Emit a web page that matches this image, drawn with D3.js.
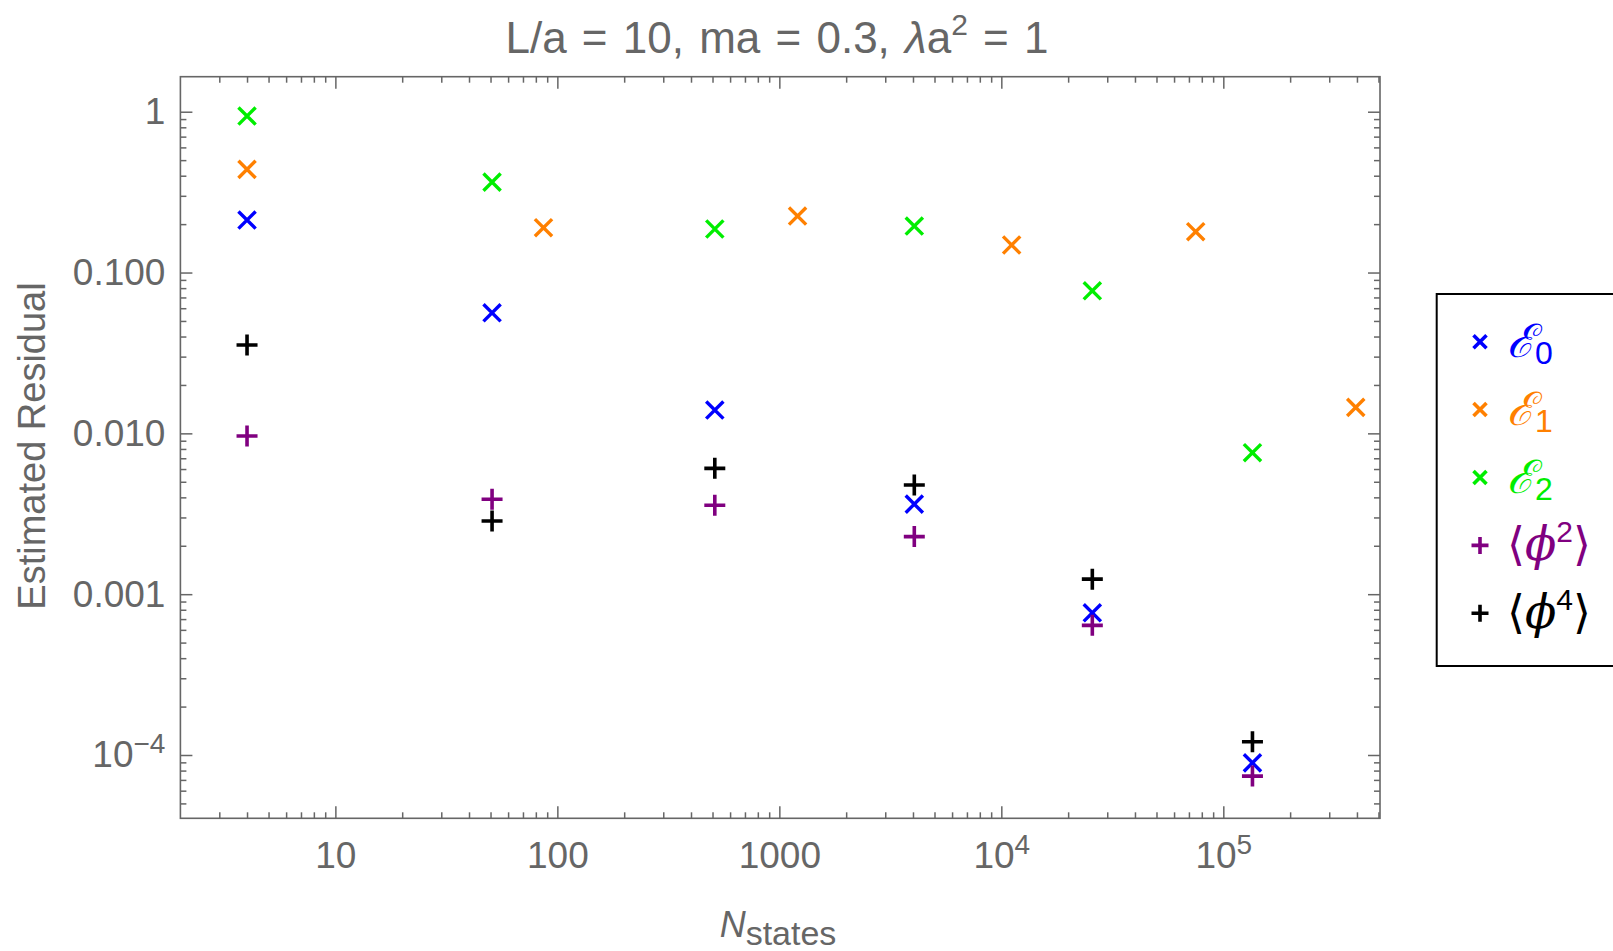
<!DOCTYPE html>
<html>
<head>
<meta charset="utf-8">
<script src="https://cdnjs.cloudflare.com/ajax/libs/d3/7.8.5/d3.min.js"></script>
<style>
  body { margin: 0; background: #fff; }
  svg { color: #666; }
  text { font-family: "Liberation Sans", Arial, sans-serif; }
  .axis text { font-size: 37px; fill: #666; }
  .axis line { stroke-width: 1.5px; }
</style>
</head>
<body>
<script>
// N_states where E0, E2, <phi^2>, <phi^4> were measured
var nStates = [4, 50.8, 512, 4055, 25700, 135300];
// E1 was measured at other sizes
var nStatesE1 = [4, 86.6, 1208, 11130, 75100, 395000];

var residE0 = [0.212, 0.0562, 0.01396, 0.00363, 0.000766, 0.0000894];
var residE1 = [0.438, 0.190, 0.2246, 0.1483, 0.1794, 0.01451];
var residE2 = [0.940, 0.365, 0.1865, 0.1946, 0.0770, 0.00758];
var residPhi2 = [0.00962, 0.00389, 0.00357, 0.00228, 0.000640, 0.0000739];
var residPhi4 = [0.0354, 0.00285, 0.00606, 0.00477, 0.00124, 0.000121];

var xMajor = [10, 100, 1000, 1e4, 1e5];
var xTickLabels = ["10", "100", "1000", "10^4", "10^5"];
var yMajor = [1, 0.1, 0.01, 0.001, 1e-4];
var yTickLabels = ["1", "0.100", "0.010", "0.001", "10^\u22124"];

var series = [
    { sub: "0", kind: "E", xs: nStates, ys: residE0, color: "#0000ff", shape: "x" },
    { sub: "1", kind: "E", xs: nStatesE1, ys: residE1, color: "#ff8000", shape: "x" },
    { sub: "2", kind: "E", xs: nStates, ys: residE2, color: "#00ee00", shape: "x" },
    { sub: "2", kind: "phi", xs: nStates, ys: residPhi2, color: "#800080", shape: "+" },
    { sub: "4", kind: "phi", xs: nStates, ys: residPhi4, color: "#000000", shape: "+" }
];

var width = 1613, height = 951;
var plot = { left: 180.4, right: 1380, top: 76.7, bottom: 818.3 };

var svg = d3.select("body").append("svg")
    .attr("width", width)
    .attr("height", height);

var x = d3.scaleLog().domain([2.004, 5.08e5]).range([plot.left, plot.right]);
var y = d3.scaleLog().domain([1.651, 4.04e-5]).range([plot.top, plot.bottom]);

// minor ticks 2..9 of each decade inside the domain
function minorTicks(scale) {
    var dom = scale.domain(), lo = Math.min(dom[0], dom[1]), hi = Math.max(dom[0], dom[1]);
    var out = [];
    for (var e = Math.floor(Math.log10(lo)); e <= Math.ceil(Math.log10(hi)); e++) {
        for (var k = 2; k <= 9; k++) {
            var v = k * Math.pow(10, e);
            if (v > lo && v < hi) out.push(v);
        }
    }
    return out;
}

function superscripts(g) {
    g.selectAll(".tick text").each(function () {
        var t = d3.select(this);
        var parts = t.text().split("^");
        if (parts.length > 1) {
            t.text(parts[0]);
            t.append("tspan").attr("dy", -14).style("font-size", "28px").text(parts[1]);
        }
    });
}

function axisGroup(axis, tx, ty) {
    var g = svg.append("g")
        .attr("class", "axis")
        .attr("transform", "translate(" + tx + "," + ty + ")")
        .attr("font-size", null)
        .attr("font-family", null)
        .call(axis);
    g.select(".domain").remove();
    return g;
}

// bottom
axisGroup(d3.axisBottom(x).tickValues(xMajor).tickSizeInner(-12).tickSizeOuter(0).tickPadding(23)
    .tickFormat(function (d, i) { return xTickLabels[i]; }), 0, plot.bottom).call(superscripts);
axisGroup(d3.axisBottom(x).tickValues(minorTicks(x)).tickSizeInner(-6).tickSizeOuter(0).tickFormat(""), 0, plot.bottom);
// top
axisGroup(d3.axisTop(x).tickValues(xMajor).tickSizeInner(-12).tickSizeOuter(0).tickFormat(""), 0, plot.top);
axisGroup(d3.axisTop(x).tickValues(minorTicks(x)).tickSizeInner(-6).tickSizeOuter(0).tickFormat(""), 0, plot.top);
// left
axisGroup(d3.axisLeft(y).tickValues(yMajor).tickSizeInner(-12).tickSizeOuter(0).tickPadding(15)
    .tickFormat(function (d, i) { return yTickLabels[i]; }), plot.left, 0).call(superscripts);
axisGroup(d3.axisLeft(y).tickValues(minorTicks(y)).tickSizeInner(-6).tickSizeOuter(0).tickFormat(""), plot.left, 0);
// right
axisGroup(d3.axisRight(y).tickValues(yMajor).tickSizeInner(-12).tickSizeOuter(0).tickFormat(""), plot.right, 0);
axisGroup(d3.axisRight(y).tickValues(minorTicks(y)).tickSizeInner(-6).tickSizeOuter(0).tickFormat(""), plot.right, 0);

svg.append("rect")
    .attr("x", plot.left)
    .attr("y", plot.top)
    .attr("width", plot.right - plot.left)
    .attr("height", plot.bottom - plot.top)
    .attr("fill", "none")
    .attr("stroke", "#666")
    .attr("stroke-width", 1.6);

function markerPath(shape, s) {
    if (shape === "x") return "M" + -s + "," + -s + "L" + s + "," + s + "M" + -s + "," + s + "L" + s + "," + -s;
    return "M" + -s + ",0L" + s + ",0M0," + -s + "L0," + s;
}

// points
series.forEach(function (s) {
    var pts = s.xs.map(function (n, i) { return [n, s.ys[i]]; });
    svg.append("g").selectAll("path")
        .data(pts)
        .enter().append("path")
        .attr("transform", function (d) { return "translate(" + x(d[0]) + "," + y(d[1]) + ")"; })
        .attr("d", markerPath(s.shape, s.shape === "x" ? 8.6 : 10.5))
        .attr("stroke", s.color)
        .attr("stroke-width", s.shape === "x" ? 3.4 : 3.6)
        .attr("fill", "none");
});

// title
var title = svg.append("text")
    .attr("x", 777)
    .attr("y", 53)
    .attr("text-anchor", "middle")
    .attr("fill", "#666")
    .style("font-size", "44px")
    .style("word-spacing", "3px");
title.append("tspan").text("L/a = 10, ma = 0.3, ");
title.append("tspan").style("font-style", "italic").text("\u03bb");
title.append("tspan").text("a");
title.append("tspan").attr("dy", -18).style("font-size", "30px").text("2");
title.append("tspan").attr("dy", 18).text(" = 1");

// axis titles
svg.append("text")
    .attr("transform", "rotate(-90)")
    .attr("x", -446)
    .attr("y", 45)
    .attr("text-anchor", "middle")
    .attr("fill", "#666")
    .style("font-size", "38px")
    .text("Estimated Residual");

var xl = svg.append("text")
    .attr("x", 778)
    .attr("y", 936.7)
    .attr("text-anchor", "middle")
    .attr("fill", "#666")
    .style("font-size", "36px");
xl.append("tspan").style("font-style", "italic").text("N");
xl.append("tspan").attr("dy", 8).style("font-size", "34px").text("states");

// legend
var legend = svg.append("g");
legend.append("rect")
    .attr("x", 1436.7)
    .attr("y", 294)
    .attr("width", 220)
    .attr("height", 372)
    .attr("fill", "#fff")
    .attr("stroke", "#000")
    .attr("stroke-width", 2);

var rowY = d3.scaleLinear().domain([0, 4]).range([341.7, 613.3]);

series.forEach(function (s, i) {
    var cy = rowY(i);
    legend.append("path")
        .attr("transform", "translate(1480," + cy + ")")
        .attr("d", markerPath(s.shape, s.shape === "x" ? 6.5 : 8.5))
        .attr("stroke", s.color)
        .attr("stroke-width", 3.6)
        .attr("fill", "none");

    var t = legend.append("text")
        .attr("x", 1507)
        .attr("y", cy + 15)
        .attr("fill", s.color)
        .style("font-size", "46px");
    if (s.kind === "E") {
        t.append("tspan").style("font-family", "'DejaVu Serif', serif").style("font-style", "italic").text("\u2130");
        t.append("tspan").attr("dy", 7).style("font-size", "32px").text(s.sub);
    } else {
        t.append("tspan").style("font-family", "'DejaVu Sans', sans-serif").style("font-weight", "200").text("\u27e8");
        t.append("tspan").style("font-family", "'DejaVu Serif', serif").style("font-style", "italic").text("\u03d5");
        t.append("tspan").attr("dy", -18).style("font-size", "30px").text(s.sub);
        t.append("tspan").attr("dy", 18).style("font-family", "'DejaVu Sans', sans-serif").text("\u27e9");
    }
});
</script>
</body>
</html>
